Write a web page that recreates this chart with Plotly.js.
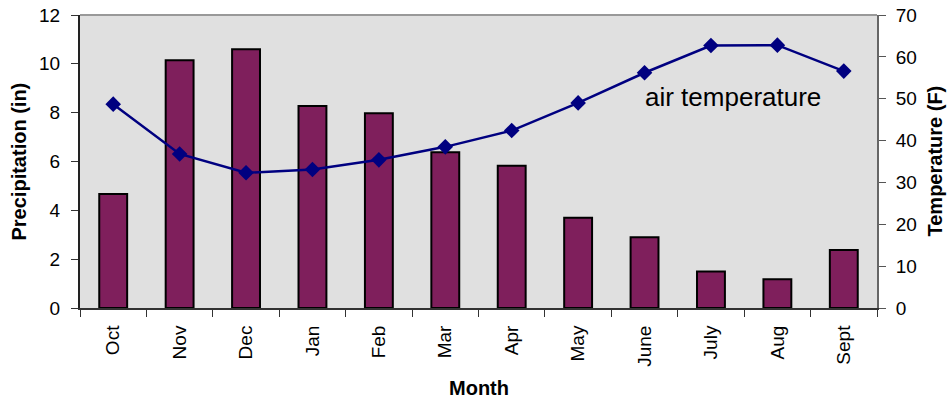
<!DOCTYPE html>
<html>
<head>
<meta charset="utf-8">
<script src="https://cdn.plot.ly/plotly-3.0.1.min.js"></script>
<style>
  html, body { margin: 0; padding: 0; background: #fff; }
  #chart { width: 948px; height: 402px; }
</style>
</head>
<body>
<div id="chart"></div>
<script>
// Monthly precipitation (inches) and mean air temperature (F), water year Oct–Sept
const months = ['Oct', 'Nov', 'Dec', 'Jan', 'Feb', 'Mar', 'Apr', 'May', 'June', 'July', 'Aug', 'Sept'];
const precipitation = [4.67, 10.15, 10.6, 8.27, 7.98, 6.38, 5.83, 3.7, 2.9, 1.49, 1.18, 2.38];
const airTemperature = [48.7, 36.8, 32.3, 33.1, 35.4, 38.5, 42.4, 49.0, 56.2, 62.7, 62.8, 56.6];
const precipTicks = [0, 2, 4, 6, 8, 10, 12];
const tempTicks = [0, 10, 20, 30, 40, 50, 60, 70];

const font = 'Liberation Sans, Arial, sans-serif';
const tickFont = { family: font, size: 19, color: '#000000' };
const titleFont = { family: font, size: 20, color: '#000000' };

const traces = [
  {
    type: 'bar',
    x: months,
    y: precipitation,
    marker: { color: '#7f1f5c', line: { color: '#000000', width: 2 } },
    width: 0.42,
    yaxis: 'y',
    hoverinfo: 'x+y'
  },
  {
    type: 'scatter',
    mode: 'lines+markers',
    x: months,
    y: airTemperature,
    yaxis: 'y2',
    line: { color: '#000080', width: 2.5 },
    marker: { symbol: 'diamond', size: 12, color: '#000080' },
    hoverinfo: 'x+y'
  }
];

const layout = {
  width: 948,
  height: 402,
  margin: { l: 80, r: 71, t: 15, b: 94 },
  paper_bgcolor: '#ffffff',
  plot_bgcolor: '#e0e0e0',
  showlegend: false,
  font: { family: font, color: '#000000', size: 19 },
  xaxis: {
    type: 'category',
    range: [-0.5, months.length - 0.5],
    automargin: false,
    tickson: 'boundaries',
    ticks: 'outside',
    ticklen: 7,
    tickcolor: '#333333',
    tickwidth: 1,
    tickangle: -90,
    ticklabelstandoff: 8,
    tickfont: tickFont,
    showline: true,
    linecolor: '#333333',
    linewidth: 2,
    showgrid: false,
    zeroline: false
  },
  yaxis: {
    automargin: false,
    range: [0, 12],
    tickvals: precipTicks,
    ticktext: precipTicks.map(String),
    ticks: 'outside',
    ticklen: 7,
    tickcolor: '#333333',
    ticklabelstandoff: 7,
    tickfont: tickFont,
    showline: true,
    linecolor: '#222222',
    linewidth: 2,
    showgrid: false,
    zeroline: false
  },
  yaxis2: {
    automargin: false,
    overlaying: 'y',
    side: 'right',
    range: [0, 70],
    tickvals: tempTicks,
    ticktext: tempTicks.map(String),
    ticks: 'outside',
    ticklen: 7,
    tickcolor: '#555555',
    ticklabelstandoff: 6,
    tickfont: tickFont,
    showline: true,
    linecolor: '#666666',
    linewidth: 2,
    showgrid: false,
    zeroline: false
  },
  shapes: [
    {
      type: 'line', xref: 'paper', yref: 'paper',
      x0: 0, x1: 1, y0: 1, y1: 1,
      line: { color: '#999999', width: 2 }
    }
  ],
  annotations: [
    {
      text: 'air temperature',
      xref: 'paper', yref: 'paper',
      x: 0.8193, y: 0.72,
      xanchor: 'center', yanchor: 'middle',
      showarrow: false,
      font: { family: font, size: 26, color: '#000000' }
    },
    {
      text: '<b>Precipitation (in)</b>',
      xref: 'paper', yref: 'paper',
      x: 0, y: 0.5, xshift: -62,
      xanchor: 'center', yanchor: 'middle',
      textangle: -90,
      showarrow: false,
      font: titleFont
    },
    {
      text: '<b>Temperature (F)</b>',
      xref: 'paper', yref: 'paper',
      x: 1, y: 0.5, xshift: 57,
      xanchor: 'center', yanchor: 'middle',
      textangle: -90,
      showarrow: false,
      font: titleFont
    },
    {
      text: '<b>Month</b>',
      xref: 'paper', yref: 'paper',
      x: 0.5, y: 0, yshift: -80,
      xanchor: 'center', yanchor: 'middle',
      showarrow: false,
      font: titleFont
    }
  ]
};

Plotly.newPlot('chart', traces, layout, { displayModeBar: false, staticPlot: true });
</script>
</body>
</html>
